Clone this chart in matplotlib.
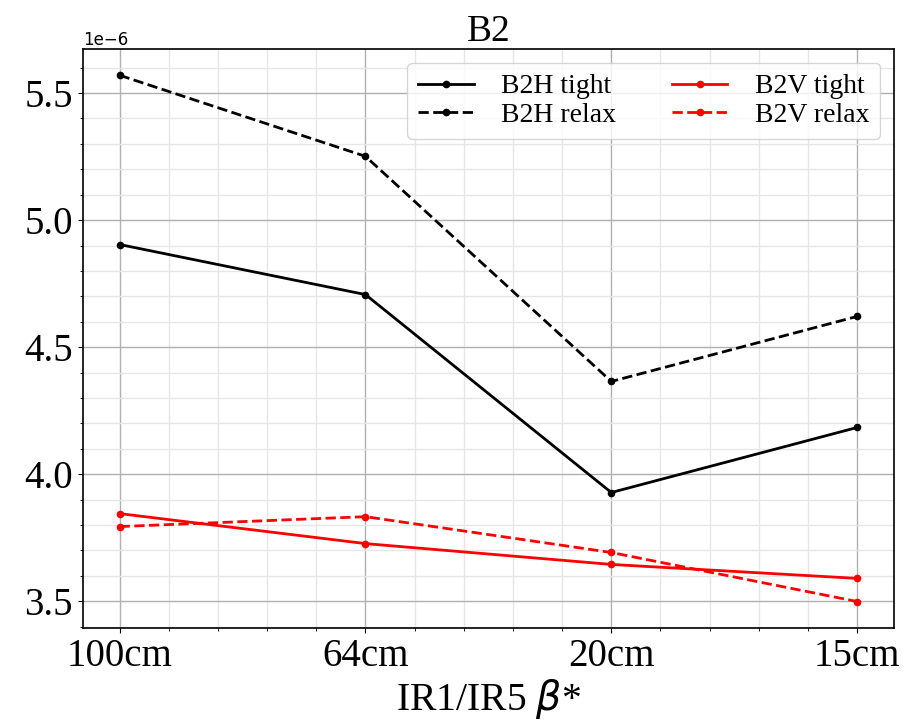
import matplotlib
matplotlib.use('Agg')
import matplotlib.pyplot as plt

# beta* settings and beam sizes (m)
beta_labels = ['100cm', '64cm', '20cm', '15cm']
b2h_tight = [4.904e-6, 4.707e-6, 3.928e-6, 4.184e-6]
b2h_relax = [5.570e-6, 5.251e-6, 4.365e-6, 4.621e-6]
b2v_tight = [3.845e-6, 3.727e-6, 3.645e-6, 3.590e-6]
b2v_relax = [3.794e-6, 3.833e-6, 3.692e-6, 3.499e-6]

serif = 'Liberation Serif'


def plot_b2():
    fig = plt.figure(figsize=(9.06, 7.2), dpi=100)
    ax = fig.add_axes([0.0913, 0.128, 0.8955, 0.804])

    x = list(range(len(beta_labels)))
    ax.plot(x, b2h_tight, '-o', color='black', lw=2, ms=4.5, label='B2H tight')
    ax.plot(x, b2h_relax, '--o', color='black', lw=2, ms=4.5, label='B2H relax')
    ax.plot(x, b2v_tight, '-o', color='red', lw=2, ms=4.5, label='B2V tight')
    ax.plot(x, b2v_relax, '--o', color='red', lw=2, ms=4.5, label='B2V relax')

    ax.set_xticks(x)
    ax.set_xticklabels(beta_labels)
    ax.minorticks_on()
    ax.grid(which='major', color='#b0b0b0', lw=1)
    ax.grid(which='minor', color='#e6e6e6', lw=1)
    ax.set_axisbelow(True)

    for lab in ax.get_xticklabels() + ax.get_yticklabels():
        lab.set_fontname(serif)
        lab.set_fontsize(28)
    ax.yaxis.get_offset_text().set_fontsize(12)

    ax.set_title('B2', fontname=serif, fontsize=27)
    ax.set_xlabel(r'IR1/IR5 $\beta$*', fontname=serif, fontsize=28.5, labelpad=2)

    ax.legend(ncol=2, loc='upper right', labelspacing=0.1, handletextpad=0.98,
              prop={'family': serif, 'size': 20})

    for sp in ax.spines.values():
        sp.set_linewidth(1.2)

    fig.savefig('out.png', dpi=100)


def main():
    plot_b2()


if __name__ == '__main__':
    main()
